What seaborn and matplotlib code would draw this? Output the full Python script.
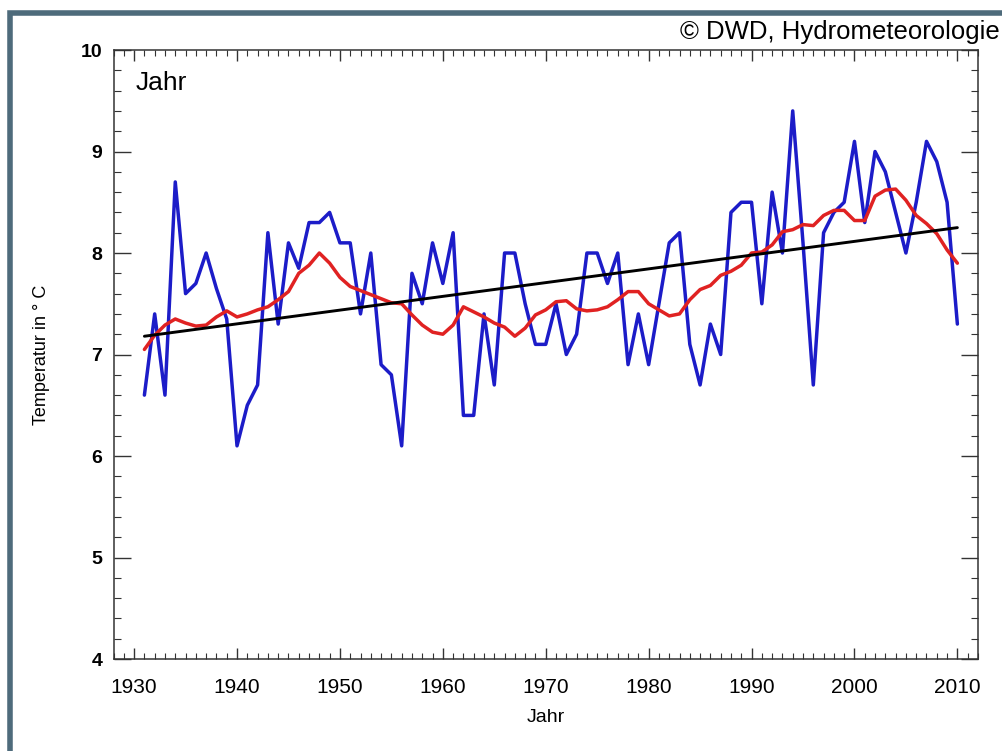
import numpy as np
import pandas as pd
import matplotlib
matplotlib.use("Agg")
import matplotlib.pyplot as plt
from matplotlib.patches import Rectangle
from matplotlib.ticker import MultipleLocator
import seaborn as sns

# Jahresmittel der Lufttemperatur, 1931-2010
years = list(range(1931, 2011))
temp_year = [
    6.6, 7.4, 6.6, 8.7, 7.6, 7.7, 8.0, 7.65, 7.35, 6.1,
    6.5, 6.7, 8.2, 7.3, 8.1, 7.85, 8.3, 8.3, 8.4, 8.1,
    8.1, 7.4, 8.0, 6.9, 6.8, 6.1, 7.8, 7.5, 8.1, 7.7,
    8.2, 6.4, 6.4, 7.4, 6.7, 8.0, 8.0, 7.5, 7.1, 7.1,
    7.5, 7.0, 7.2, 8.0, 8.0, 7.7, 8.0, 6.9, 7.4, 6.9,
    7.5, 8.1, 8.2, 7.1, 6.7, 7.3, 7.0, 8.4, 8.5, 8.5,
    7.5, 8.6, 8.0, 9.4, 8.1, 6.7, 8.2, 8.4, 8.5, 9.1,
    8.3, 9.0, 8.8, 8.4, 8.0, 8.5, 9.1, 8.9, 8.5, 7.3,
]
# gleitendes Mittel (rot)
temp_smooth = [
    7.05, 7.19, 7.29, 7.35, 7.31, 7.28, 7.29, 7.37, 7.43, 7.37,
    7.40, 7.44, 7.47, 7.54, 7.62, 7.80, 7.88, 8.00, 7.90, 7.76,
    7.67, 7.63, 7.59, 7.55, 7.51, 7.50, 7.39, 7.29, 7.22, 7.20,
    7.29, 7.47, 7.42, 7.37, 7.31, 7.27, 7.18, 7.26, 7.39, 7.44,
    7.52, 7.53, 7.45, 7.43, 7.44, 7.47, 7.54, 7.62, 7.62, 7.50,
    7.44, 7.38, 7.40, 7.54, 7.64, 7.68, 7.78, 7.82, 7.88, 8.00,
    8.01, 8.08, 8.21, 8.23, 8.28, 8.27, 8.37, 8.42, 8.42, 8.32,
    8.32, 8.56, 8.62, 8.63, 8.52, 8.37, 8.29, 8.19, 8.03, 7.90,
]
# linearer Trend (schwarz)
trend_years = [1931, 2010]
trend_vals = [7.18, 8.25]

df = pd.DataFrame({"Jahr": years, "Temp": temp_year, "Mittel": temp_smooth})
df_trend = pd.DataFrame({"Jahr": trend_years, "Temp": trend_vals})

sns.set_theme(style="white")
plt.rcParams["font.family"] = ["Liberation Sans", "DejaVu Sans"]
plt.rcParams["text.color"] = "black"
plt.rcParams["axes.labelcolor"] = "black"

fig = plt.figure(figsize=(10.02, 7.51), dpi=100)
ax = fig.add_axes([0.1133, 0.1225, 0.8627, 0.8109])

sns.lineplot(data=df, x="Jahr", y="Temp", ax=ax, color="#1c1cc8", lw=2.5)
sns.lineplot(data=df, x="Jahr", y="Mittel", ax=ax, color="#e02222", lw=2.5)
sns.lineplot(data=df_trend, x="Jahr", y="Temp", ax=ax, color="black", lw=2.1)

ax.set_xlim(1928, 2012)
ax.set_ylim(4, 10)
ax.xaxis.set_major_locator(MultipleLocator(10))
ax.xaxis.set_minor_locator(MultipleLocator(1))
ax.yaxis.set_major_locator(MultipleLocator(1))
ax.yaxis.set_minor_locator(MultipleLocator(0.2))
ax.tick_params(axis="x", which="major", direction="in", length=8, width=1,
               top=True, bottom=True, labelsize=15, pad=14, colors="#333333",
               labelcolor="black")
ax.tick_params(axis="x", which="minor", direction="in", length=4, width=0.8,
               top=True, bottom=True, colors="#333333")
ax.tick_params(axis="y", which="major", direction="in", length=12, width=1,
               left=True, right=True, labelsize=14, pad=8, colors="#333333",
               labelcolor="black")
ax.tick_params(axis="y", which="minor", direction="in", length=5, width=0.8,
               left=True, right=True, colors="#333333")
for lab in ax.get_yticklabels():
    lab.set_fontweight("bold")
for sp in ax.spines.values():
    sp.set_color("#333333")
    sp.set_linewidth(1.1)

ax.set_xlabel("Jahr", fontsize=14, labelpad=8)
ax.set_ylabel("Temperatur in ° C", fontsize=13, labelpad=22)
ax.text(0.025, 0.965, "Jahr", transform=ax.transAxes, fontsize=19,
        ha="left", va="top")

fig.text(0.998, 0.958, "© DWD, Hydrometeorologie", fontsize=18.5,
         ha="right", va="center")

# Rahmen um die Grafik
fig.patches.append(Rectangle((10 / 1002, -0.1), 1.2, 1 - 13 / 751 + 0.1,
                             transform=fig.transFigure, fill=False,
                             edgecolor="#4e6b7b", lw=4, zorder=0))

fig.savefig("out.png", dpi=100)
